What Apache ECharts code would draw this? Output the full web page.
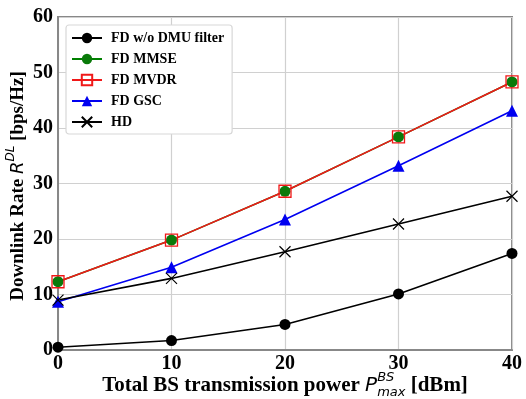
<!DOCTYPE html>
<html>
<head>
<meta charset="utf-8">
<script src="https://cdn.jsdelivr.net/npm/echarts@6/dist/echarts.min.js"></script>
<style>
  html, body { margin: 0; padding: 0; background: #fff; }
  #chart { width: 526px; height: 399px; }
</style>
</head>
<body>
<div id="chart"></div>
<script>
// Transmission power (dBm) on the x axis
const powerDbm = [0, 10, 20, 30, 40];

// Downlink rate (bps/Hz) per scheme
const fdNoFilter = [0.5, 1.7, 4.6, 10.1, 17.4];
const fdMmse     = [12.3, 19.8, 28.6, 38.4, 48.3];
const fdMvdr     = [12.3, 19.8, 28.6, 38.4, 48.3];
const fdGsc      = [8.7, 14.9, 23.5, 33.2, 43.1];
const hd         = [9.0, 12.9, 17.7, 22.7, 27.7];

const seriesNames = ['FD w/o DMU filter', 'FD MMSE', 'FD MVDR', 'FD GSC', 'HD'];

const xTicks = [0, 10, 20, 30, 40];
const yTicks = [0, 10, 20, 30, 40, 50, 60];

const SERIF = '"Liberation Serif", "Times New Roman", serif';
const SANS = '"DejaVu Sans", sans-serif';

function pairs(vals) {
  return powerDbm.map((x, i) => [x, vals[i]]);
}

// Lay out a row of text pieces (with stacked super/subscripts) as graphic texts
const measureCtx = document.createElement('canvas').getContext('2d');
function textRow(parts) {
  let x = 0;
  let stackStart = null;
  let stackWidth = 0;
  const items = [];
  parts.forEach(p => {
    measureCtx.font = p.f;
    const w = measureCtx.measureText(p.t).width;
    const startX = stackStart !== null ? stackStart : x;
    items.push({ t: p.t, f: p.f, x: startX, dy: p.dy || 0 });
    if (p.stack) {
      stackStart = startX;
      stackWidth = Math.max(stackWidth, w);
    } else if (stackStart !== null) {
      x = stackStart + Math.max(stackWidth, w);
      stackStart = null;
      stackWidth = 0;
    } else {
      x += w;
    }
  });
  const total = x;
  return items.map(it => ({
    type: 'text',
    style: {
      text: it.t,
      font: it.f,
      x: it.x - total / 2,
      y: it.dy,
      fill: '#000',
      textAlign: 'left',
      textVerticalAlign: 'middle'
    }
  }));
}

const xTitle = textRow([
  { t: 'Total BS transmission power ', f: 'bold 21px ' + SERIF },
  { t: 'P', f: 'italic 20px ' + SANS, dy: 0 },
  { t: 'BS', f: 'italic 13px ' + SANS, dy: -8, stack: true },
  { t: 'max', f: 'italic 13px ' + SANS, dy: 7 },
  { t: ' [dBm]', f: 'bold 21px ' + SERIF }
]);

const yTitle = textRow([
  { t: 'Downlink Rate ', f: 'bold 19px ' + SERIF },
  { t: 'R', f: 'italic 18px ' + SANS, dy: 0 },
  { t: 'DL', f: 'italic 12px ' + SANS, dy: -7 },
  { t: ' [bps/Hz]', f: 'bold 19px ' + SERIF }
]);

const lineW = 1.6;

const chart = echarts.init(document.getElementById('chart'), null, { renderer: 'canvas' });
chart.setOption({
  backgroundColor: '#fff',
  animation: false,
  grid: {
    left: 58, right: 14, top: 17, bottom: 49,
    show: true, borderColor: '#888', borderWidth: 2
  },
  xAxis: {
    type: 'value',
    min: xTicks[0], max: xTicks[xTicks.length - 1], interval: 10,
    axisLine: { show: true, lineStyle: { color: '#888', width: 2 } },
    axisTick: { show: false },
    splitLine: { show: true, lineStyle: { color: '#d0d0d0', width: 1.2 } },
    axisLabel: {
      color: '#000', fontFamily: SERIF, fontWeight: 'bold', fontSize: 20, margin: 4,
      showMinLabel: true, showMaxLabel: true
    }
  },
  yAxis: {
    type: 'value',
    min: yTicks[0], max: yTicks[yTicks.length - 1], interval: 10,
    axisLine: { show: true, lineStyle: { color: '#888', width: 2 } },
    axisTick: { show: false },
    splitLine: { show: true, lineStyle: { color: '#d0d0d0', width: 1.2 } },
    axisLabel: {
      color: '#000', fontFamily: SERIF, fontWeight: 'bold', fontSize: 20, margin: 5
    }
  },
  legend: {
    orient: 'vertical',
    left: 66, top: 25,
    backgroundColor: '#fff',
    borderColor: '#d8d8d8', borderWidth: 1.2, borderRadius: 3,
    padding: [6, 8, 5, 5],
    itemWidth: 30, itemHeight: 13, itemGap: 7,
    textStyle: {
      fontFamily: SERIF, fontWeight: 'bold', fontSize: 14, lineHeight: 13,
      color: '#000', padding: [0, 0, 0, 4]
    },
    data: seriesNames
  },
  series: [
    {
      name: seriesNames[0], type: 'line', data: pairs(fdNoFilter),
      symbol: 'circle', symbolSize: 11,
      lineStyle: { color: '#000', width: lineW },
      itemStyle: { color: '#000' }
    },
    {
      name: seriesNames[1], type: 'line', data: pairs(fdMmse),
      symbol: 'circle', symbolSize: 11,
      lineStyle: { color: '#008000', width: lineW },
      itemStyle: { color: '#0a7a0a' }
    },
    {
      name: seriesNames[2], type: 'line', data: pairs(fdMvdr),
      symbol: 'rect', symbolSize: 12,
      lineStyle: { color: '#f01818', width: lineW },
      itemStyle: { color: 'rgba(255,255,255,0)', borderColor: '#f01818', borderWidth: 1.3 }
    },
    {
      name: seriesNames[3], type: 'line', data: pairs(fdGsc),
      symbol: 'triangle', symbolSize: 12,
      lineStyle: { color: '#0000f0', width: lineW },
      itemStyle: { color: '#0000f0' }
    },
    {
      name: seriesNames[4], type: 'line', data: pairs(hd),
      symbol: 'path://M0,0L10,10M10,0L0,10', symbolSize: 11,
      lineStyle: { color: '#000', width: lineW },
      itemStyle: { color: 'rgba(0,0,0,0)', borderColor: '#000', borderWidth: 1.2 }
    }
  ],
  graphic: [
    { type: 'group', x: 285, y: 386, children: xTitle },
    { type: 'group', x: 18, y: 186, rotation: Math.PI / 2, children: yTitle }
  ]
});
</script>
</body>
</html>
